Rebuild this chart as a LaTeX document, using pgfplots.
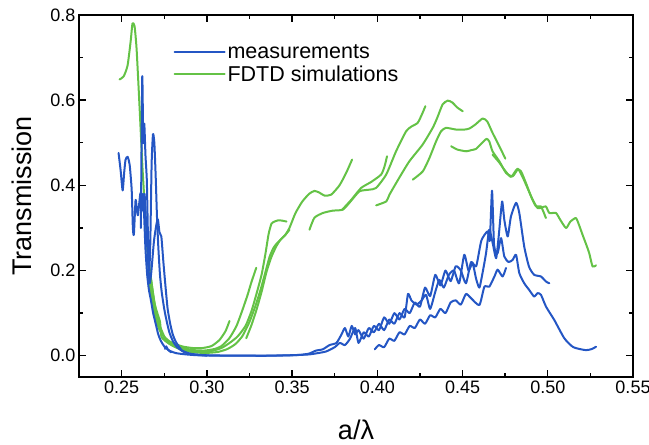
\documentclass[border=0pt]{standalone}
\usepackage{fontspec}
\setmainfont{Liberation Sans}
\usepackage{pgfplots}
\pgfplotsset{compat=1.18}
\definecolor{mblue}{RGB}{36,86,196}
\definecolor{sgreen}{RGB}{100,194,70}
\begin{document}
\begin{tikzpicture}
\begin{axis}[
  scale only axis, width=554bp, height=362bp,
  xmin=0.225, xmax=0.55, ymin=-0.05, ymax=0.8,
  xtick={0.25,0.30,0.35,0.40,0.45,0.50,0.55},
  ytick={0,0.2,0.4,0.6,0.8},
  minor x tick num=1, minor y tick num=1,
  tick align=inside,
  major tick length=7bp, minor tick length=4bp,
  axis line style={line width=1.5bp},
  every tick/.style={line width=1.4bp, black},
  /pgf/number format/assume math mode=true,
  tick label style={font=\fontsize{18bp}{20bp}\selectfont},
  xticklabel style={/pgf/number format/.cd, fixed, fixed zerofill, precision=2},
  yticklabel style={/pgf/number format/.cd, fixed, fixed zerofill, precision=1},
  xlabel={a/λ}, ylabel={Transmission},
  label style={font=\fontsize{27bp}{30bp}\selectfont},
  xlabel style={at={(axis description cs:0.5,-0.146)}, anchor=center},
  ylabel style={at={(axis description cs:-0.103,0.5)}, anchor=center},
  legend style={draw=none, fill=none, at={(axis description cs:0.165,0.93)}, anchor=north west,
    font=\fontsize{21.5bp}{25bp}\selectfont, row sep=2bp},
  legend cell align=left,
  legend image code/.code={\draw[#1] (0bp,0bp) -- (50bp,0bp);},
  every axis plot/.append style={line width=2bp, line join=round, line cap=round, smooth, tension=0.35, forget plot},
]
\addlegendimage{mblue, line width=2bp}
\addlegendentry{measurements}
\addlegendimage{sgreen, line width=2bp}
\addlegendentry{FDTD simulations}

% ---------- FDTD simulations (green) ----------
\addplot[sgreen] coordinates {(0.2488,0.6487)(0.2512,0.6558)(0.2535,0.6816)(0.2553,0.7381)(0.2564,0.7805)(0.2576,0.7734)(0.2588,0.7193)(0.2606,0.5781)(0.2623,0.4369)(0.2641,0.3193)(0.2658,0.2134)(0.2676,0.1428)(0.2700,0.0911)(0.2723,0.0605)(0.2758,0.0393)(0.2799,0.0299)(0.2858,0.0216)(0.2916,0.0181)(0.2975,0.0181)(0.3028,0.0228)(0.3074,0.0369)(0.3110,0.0581)(0.3133,0.0816)};
\addplot[sgreen] coordinates {(0.2645,0.29)(0.2655,0.23)(0.2664,0.1664)(0.2688,0.1075)(0.2711,0.0722)(0.2746,0.0464)(0.2793,0.0299)(0.2852,0.0193)(0.2916,0.0134)(0.2987,0.0122)(0.3045,0.0158)(0.3086,0.0228)(0.3133,0.0416)(0.3174,0.0699)(0.3209,0.1075)(0.3239,0.1428)(0.3262,0.1734)(0.3290,0.2064)};
\addplot[sgreen] coordinates {(0.2660,0.22)(0.2690,0.13)(0.2720,0.075)(0.2764,0.0346)(0.2817,0.0205)(0.2887,0.0122)(0.2957,0.0087)(0.3028,0.0111)(0.3086,0.0181)(0.3133,0.0299)(0.3180,0.0450)(0.3227,0.0700)(0.3262,0.1050)(0.3291,0.1450)(0.3321,0.1900)(0.3344,0.2400)(0.3362,0.2850)(0.3379,0.3100)(0.3397,0.3150)(0.3420,0.3180)(0.3444,0.3170)(0.3467,0.3150)};
\addplot[sgreen] coordinates {(0.2665,0.20)(0.2695,0.12)(0.2725,0.08)(0.2734,0.0440)(0.2781,0.0275)(0.2840,0.0158)(0.2910,0.0087)(0.2987,0.0064)(0.3063,0.0087)(0.3121,0.0158)(0.3168,0.0275)(0.3209,0.0464)(0.3250,0.0793)(0.3285,0.1169)(0.3315,0.1546)(0.3344,0.1969)(0.3368,0.2322)(0.3391,0.2534)(0.3414,0.2652)(0.3438,0.2746)(0.3461,0.2840)(0.3485,0.3005)(0.3520,0.3350)(0.3560,0.3620)(0.3600,0.3800)(0.3631,0.3870)(0.3660,0.3830)(0.3690,0.3760)(0.3729,0.3780)(0.3778,0.4000)(0.3817,0.4290)(0.3852,0.4605)};
\addplot[sgreen] coordinates {(0.3231,0.0410)(0.3262,0.0722)(0.3291,0.1075)(0.3321,0.1499)(0.3350,0.1969)(0.3379,0.2322)(0.3409,0.2581)(0.3432,0.2722)(0.3456,0.2816)(0.3485,0.2958)};
\addplot[sgreen] coordinates {(0.3602,0.2958)(0.3631,0.3240)(0.3680,0.3350)(0.3737,0.3405)(0.3797,0.3428)(0.3837,0.3593)(0.3895,0.3859)(0.3954,0.3899)(0.3993,0.3939)(0.4052,0.4252)(0.4110,0.4800)(0.4169,0.5270)(0.4200,0.5380)(0.4237,0.5468)(0.4264,0.5687)(0.4282,0.5859)};
\addplot[sgreen] coordinates {(0.3794,0.3428)(0.3848,0.3664)(0.3905,0.3939)(0.3964,0.4080)(0.4022,0.4252)(0.4042,0.4440)(0.4057,0.4682)};
\addplot[sgreen] coordinates {(0.3993,0.3530)(0.4053,0.3624)(0.4071,0.3780)(0.4129,0.4180)(0.4188,0.4565)(0.4266,0.4958)(0.4325,0.5350)(0.4352,0.5590)(0.4383,0.5900)(0.4413,0.5990)(0.4440,0.5946)(0.4469,0.5828)(0.4501,0.5740)};
\addplot[sgreen] coordinates {(0.4208,0.4134)(0.4267,0.4329)(0.4306,0.4645)(0.4345,0.5035)(0.4374,0.5270)(0.4403,0.5350)(0.4462,0.5310)(0.4511,0.5310)(0.4540,0.5334)(0.4575,0.5428)(0.4618,0.5570)(0.4645,0.5500)(0.4676,0.5233)(0.4716,0.4918)(0.4751,0.4628)};
\addplot[sgreen] coordinates {(0.4433,0.4918)(0.4470,0.4840)(0.4521,0.4800)(0.4552,0.4828)(0.4579,0.4856)(0.4610,0.4980)(0.4641,0.5092)(0.4657,0.5030)(0.4676,0.4800)(0.4716,0.4565)(0.4755,0.4292)(0.4794,0.4212)(0.4823,0.4370)(0.4843,0.4330)(0.4872,0.4056)(0.4902,0.3741)(0.4931,0.3506)(0.4960,0.3506)(0.4989,0.3233)};
\addplot[sgreen] coordinates {(0.4676,0.4722)(0.4716,0.4534)(0.4745,0.4369)(0.4784,0.4198)(0.4823,0.4393)(0.4852,0.4198)(0.4880,0.3946)(0.4911,0.3664)(0.4940,0.3468)(0.4962,0.3475)(0.4989,0.3506)(0.5009,0.3351)(0.5048,0.3351)(0.5073,0.3193)(0.5107,0.2998)(0.5132,0.3146)(0.5165,0.3233)(0.5185,0.3052)(0.5204,0.2840)(0.5226,0.2605)(0.5243,0.2410)(0.5263,0.2094)(0.5283,0.2122)};

% ---------- measurements (blue) ----------
\addplot[mblue] coordinates {(0.2482,0.476)(0.2494,0.436)(0.2506,0.388)(0.2515,0.43)(0.2523,0.46)(0.2535,0.467)(0.2547,0.449)(0.2559,0.39)(0.2566,0.30)(0.2572,0.285)(0.2582,0.366)(0.2590,0.34)(0.2596,0.33)(0.2604,0.36)(0.2611,0.382)(0.2618,0.34)(0.2625,0.38)(0.2632,0.33)(0.2640,0.25)(0.2650,0.19)(0.2660,0.155)(0.2672,0.13)(0.2685,0.10)(0.2700,0.075)(0.2715,0.05)(0.2730,0.035)(0.2750,0.022)(0.2780,0.012)(0.2820,0.006)(0.2880,0.003)(0.2950,0.001)(0.31,0.0)(0.33,0.0)(0.35,0.001)(0.355,0.002)(0.36,0.005)(0.364,0.012)(0.368,0.015)(0.372,0.025)(0.376,0.03)(0.379,0.05)(0.381,0.065)(0.383,0.045)(0.385,0.07)(0.387,0.05)(0.389,0.06)(0.392,0.04)(0.395,0.065)(0.398,0.055)(0.401,0.075)(0.404,0.06)(0.407,0.085)(0.41,0.075)(0.413,0.1)(0.416,0.09)(0.418,0.145)(0.42,0.13)(0.423,0.12)(0.426,0.13)(0.4286,0.143)(0.431,0.11)(0.434,0.15)(0.4364,0.178)(0.439,0.16)(0.442,0.19)(0.445,0.2)(0.448,0.17)(0.451,0.237)(0.4535,0.2)(0.4559,0.217)(0.458,0.18)(0.4599,0.16)(0.462,0.2)(0.4638,0.241)(0.4657,0.296)(0.4677,0.264)(0.4697,0.229)(0.4712,0.28)(0.4732,0.362)(0.4745,0.319)(0.4765,0.28)(0.4784,0.327)(0.4814,0.359)(0.4833,0.335)(0.4862,0.256)(0.489,0.209)(0.492,0.19)(0.496,0.186)(0.499,0.174)(0.5009,0.17)};
\addplot[mblue] coordinates {(0.2613,0.30)(0.2621,0.655)(0.2627,0.50)(0.2633,0.545)(0.2640,0.47)(0.2648,0.41)(0.2656,0.25)(0.2662,0.20)(0.2668,0.26)(0.2676,0.45)(0.2684,0.52)(0.2692,0.50)(0.2700,0.42)(0.2708,0.32)(0.2716,0.25)(0.2725,0.19)(0.2735,0.15)(0.275,0.11)(0.2765,0.08)(0.278,0.055)(0.280,0.035)(0.2825,0.02)(0.286,0.01)(0.29,0.004)(0.30,0.001)(0.32,0.0)(0.34,0.0)(0.355,0.002)(0.36,0.003)(0.365,0.006)(0.37,0.01)(0.375,0.02)(0.378,0.03)(0.381,0.025)(0.384,0.04)(0.387,0.065)(0.389,0.03)(0.392,0.055)(0.395,0.045)(0.398,0.07)(0.401,0.06)(0.404,0.09)(0.407,0.075)(0.41,0.1)(0.413,0.085)(0.416,0.11)(0.419,0.1)(0.422,0.125)(0.425,0.115)(0.428,0.16)(0.431,0.14)(0.434,0.19)(0.437,0.165)(0.44,0.2)(0.443,0.175)(0.446,0.21)(0.449,0.2)(0.452,0.17)(0.455,0.22)(0.458,0.21)(0.461,0.27)(0.4647,0.292)(0.466,0.27)(0.4673,0.3875)(0.4685,0.26)(0.4705,0.24)(0.4726,0.276)(0.4745,0.233)(0.4770,0.22)(0.4794,0.225)(0.4814,0.237)(0.4833,0.194)(0.4862,0.17)(0.489,0.155)(0.492,0.139)(0.494,0.147)(0.496,0.143)(0.499,0.115)(0.5038,0.084)(0.5097,0.041)(0.515,0.02)(0.5224,0.013)(0.526,0.016)(0.5283,0.021)};
\addplot[mblue] coordinates {(0.2635,0.38)(0.2645,0.30)(0.2655,0.22)(0.2665,0.17)(0.2675,0.20)(0.2690,0.27)(0.2705,0.31)(0.2713,0.32)(0.2722,0.29)(0.2733,0.28)(0.2745,0.22)(0.2758,0.16)(0.2770,0.11)(0.2785,0.075)(0.2800,0.05)(0.2815,0.035)(0.2830,0.025)(0.2855,0.012)(0.2900,0.005)(0.2950,0.002)(0.3000,0.0)};
\addplot[mblue] coordinates {(0.2755,0.016)(0.2762,0.022)(0.2772,0.014)(0.2790,0.008)};
\addplot[mblue] coordinates {(0.3985,0.015)(0.401,0.025)(0.404,0.02)(0.407,0.04)(0.41,0.035)(0.413,0.055)(0.416,0.05)(0.419,0.07)(0.422,0.065)(0.425,0.085)(0.428,0.075)(0.431,0.095)(0.434,0.09)(0.437,0.11)(0.44,0.1)(0.443,0.125)(0.446,0.13)(0.449,0.12)(0.452,0.145)(0.455,0.135)(0.4599,0.119)(0.4628,0.162)(0.4657,0.162)(0.4687,0.186)(0.4706,0.202)(0.4735,0.186)(0.4755,0.206)};
\end{axis}
\pgfresetboundingbox
\path ([shift={(-79bp,-68bp)}]current axis.south west) rectangle ([shift={(16bp,15bp)}]current axis.north east);
\end{tikzpicture}
\end{document}
